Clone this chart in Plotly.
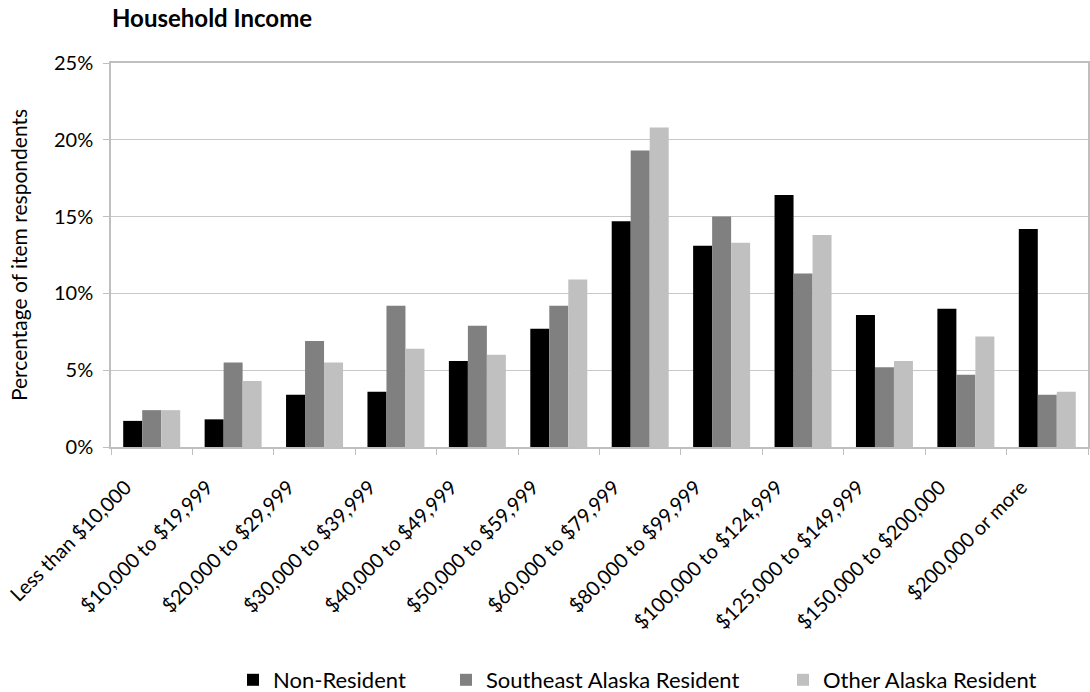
import plotly.graph_objects as go

categories = ["Less than $10,000", "$10,000 to $19,999", "$20,000 to $29,999",
              "$30,000 to $39,999", "$40,000 to $49,999", "$50,000 to $59,999",
              "$60,000 to $79,999", "$80,000 to $99,999", "$100,000 to $124,999",
              "$125,000 to $149,999", "$150,000 to $200,000", "$200,000 or more"]
non_resident = [1.7, 1.8, 3.4, 3.6, 5.6, 7.7, 14.7, 13.1, 16.4, 8.6, 9.0, 14.2]
southeast_resident = [2.4, 5.5, 6.9, 9.2, 7.9, 9.2, 19.3, 15.0, 11.3, 5.2, 4.7, 3.4]
other_resident = [2.4, 4.3, 5.5, 6.4, 6.0, 10.9, 20.8, 13.3, 13.8, 5.6, 7.2, 3.6]
series_names = ["Non-Resident", "Southeast Alaska Resident", "Other Alaska Resident"]
y_ticks = [0, 5, 10, 15, 20, 25]
y_tick_labels = ["0%", "5%", "10%", "15%", "20%", "25%"]

FONT = "Lato"
W, H = 1090, 692
ML, MR, MT, MB = 111, 2, 63, 245
PH = H - MT - MB
PW = W - ML - MR
colors = ["#000000", "#808080", "#c0c0c0"]
legend_px = [233, 446, 783]

fig = go.Figure()
for i, (name, vals) in enumerate(zip(series_names, [non_resident, southeast_resident, other_resident])):
    fig.add_trace(go.Bar(
        x=categories, y=vals, name=name, showlegend=True,
        marker=dict(color=colors[i], line=dict(width=0)),
        legend="legend" if i == 0 else f"legend{i+1}",
    ))

legend_common = dict(
    orientation="h", font=dict(family=FONT, size=22, color="#000000"),
    xref="paper", yref="paper", xanchor="left", yanchor="middle",
    y=-(680 - (H - MB)) / PH, bgcolor="rgba(0,0,0,0)", itemwidth=30,
    visible=True,
)

fig.update_layout(
    width=W, height=H, showlegend=True,
    margin=dict(l=ML, r=MR, t=MT, b=MB, autoexpand=False),
    paper_bgcolor="white", plot_bgcolor="white",
    barmode="group", bargap=0.30, bargroupgap=0,
    font=dict(family=FONT, color="#000000"),
    title=dict(text="<b>Household Income</b>", font=dict(family=FONT, size=24, color="#000000"),
               xref="container", yref="container", x=112 / W, xanchor="left",
               y=1 - 19 / H, yanchor="middle", automargin=False),
    legend=dict(x=(legend_px[0] - ML) / PW, **legend_common),
    legend2=dict(x=(legend_px[1] - ML) / PW, **legend_common),
    legend3=dict(x=(legend_px[2] - ML) / PW, **legend_common),
    xaxis=dict(
        type="category", tickangle=-45, tickson="boundaries",
        ticks="outside", ticklen=6, tickcolor="#bfbfbf",
        showline=True, linecolor="#bfbfbf", linewidth=1.5, mirror=True,
        tickfont=dict(family=FONT, size=20, color="#000000"),
        showgrid=False, automargin=False,
        ticklabelshift=-26, ticklabelstandoff=19,
    ),
    yaxis=dict(
        range=[0, 25], tickvals=y_ticks, ticktext=y_tick_labels,
        ticks="outside", ticklen=6, tickcolor="#bfbfbf",
        showline=True, linecolor="#bfbfbf", linewidth=1.5, mirror=True,
        showgrid=True, gridcolor="#c8c8c8", gridwidth=1.2,
        tickfont=dict(family=FONT, size=20, color="#000000"),
        ticklabelstandoff=6, automargin=False,
        title=dict(text="Percentage of item respondents", standoff=21,
                   font=dict(family=FONT, size=21, color="#000000")),
        zeroline=False,
    ),
)

fig.write_html("out.html", config={"displayModeBar": False},
               post_script="document.body.style.margin='0';document.body.style.overflow='hidden';")
